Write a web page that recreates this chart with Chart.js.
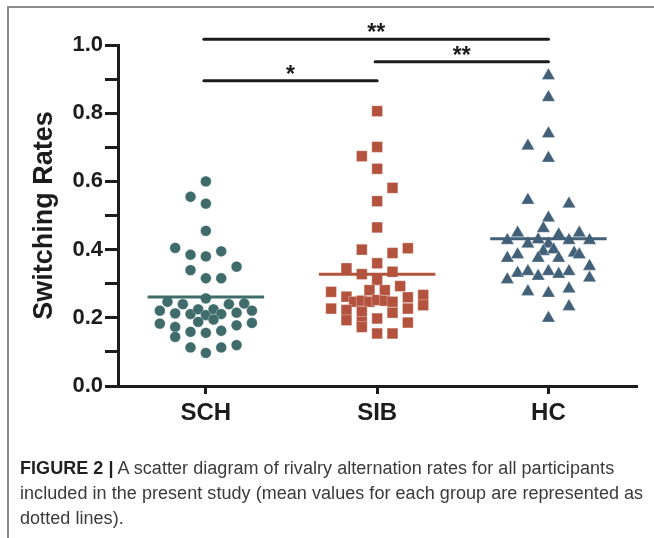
<!DOCTYPE html>
<html>
<head>
<meta charset="utf-8">
<script src="https://cdn.jsdelivr.net/npm/chart.js@4/dist/chart.umd.min.js"></script>
<style>
  html, body { margin: 0; padding: 0; background: #fff; }
  #page { position: relative; width: 654px; height: 538px; overflow: hidden; }
  #chart { position: absolute; left: 0; top: 0; }
  #frame { position: absolute; left: 7px; top: 6px; right: -4px; bottom: -4px;
    border-left: 2px solid #8c8c8c; border-top: 2px solid #8c8c8c; pointer-events: none; }
  #caption { position: absolute; left: 20px; top: 456px; width: 640px; white-space: nowrap;
    font-family: "Liberation Sans", Arial, sans-serif; font-size: 18px; letter-spacing: 0.05px;
    line-height: 25px; color: #3a3a3a; }
  #caption b { color: #1f1f1f; }
</style>
</head>
<body>
<div id="page">
  <canvas id="chart" width="654" height="440"></canvas>
  <div id="frame"></div>
  <div id="caption"><b>FIGURE 2 |</b> A scatter diagram of rivalry alternation rates for all participants<br>included in the present study (mean values for each group are represented as<br>dotted lines).</div>
</div>
<script>
(function () {
  "use strict";

  // ---- groups ----
  const groups = ["SCH", "SIB", "HC"];
  const groupMeans = [0.261, 0.328, 0.432];

  // switching rate per participant, and column slot used to spread the swarm
  const schValues = [0.60, 0.555, 0.535, 0.455, 0.405, 0.385, 0.38, 0.395, 0.34, 0.35,
    0.316, 0.316, 0.257, 0.247, 0.24, 0.24, 0.242, 0.221, 0.213, 0.211,
    0.225, 0.208, 0.225, 0.211, 0.215, 0.221, 0.183, 0.188, 0.195, 0.185,
    0.178, 0.173, 0.144, 0.159, 0.156, 0.162, 0.113, 0.097, 0.113, 0.12];
  const schSlots = [0, -2, 0, 0, -4, -2, 0, 2, -2, 4,
    0, 2, 0, -5, -3, 3, 5, -6, -4, -2,
    -1, 0, 1, 2, 4, 6, -6, -1, 1, 6,
    4, -4, -4, -2, 0, 2, -2, 0, 2, 4];

  const sibValues = [0.806, 0.701, 0.674, 0.637, 0.581, 0.542, 0.465, 0.40, 0.39, 0.404,
    0.36, 0.345, 0.328, 0.335, 0.311, 0.293, 0.276, 0.281, 0.281, 0.262,
    0.26, 0.267, 0.247, 0.25, 0.247, 0.252, 0.25, 0.247, 0.237, 0.227,
    0.223, 0.227, 0.218, 0.215, 0.193, 0.188, 0.198, 0.186, 0.173, 0.154, 0.154];
  const sibSlots = [0, 0, -2, 0, 2, 0, 0, -2, 2, 4,
    0, -4, -2, 2, 0, 3, -6, -1, 1, -4,
    4, 6, -3, -2, -1, 0, 1, 2, 6, -6,
    -4, 4, -2, 2, -4, -2, 0, 4, -2, 0, 2];

  const hcValues = [0.91, 0.846, 0.704, 0.74, 0.668, 0.545, 0.534, 0.493, 0.462, 0.449,
    0.427, 0.444, 0.449, 0.427, 0.417, 0.429, 0.417, 0.427, 0.395, 0.40,
    0.375, 0.385, 0.375, 0.375, 0.39, 0.385, 0.351, 0.312, 0.331, 0.336,
    0.322, 0.336, 0.328, 0.336, 0.317, 0.277, 0.272, 0.285, 0.233, 0.199];
  const hcSlots = [0, 0, -2, 0, 0, -2, 2, 0, -0.5, -3,
    -4, 1, 3, 4, -2, -1, 0, 2, -0.5, 0.5,
    -4, -3, -1, 1, 2.5, 3, 4, -4, -3, -2,
    -1, 0, 1, 2, 4, -2, 0, 2, 2, 0];

  // significance brackets
  const sigFrom = [1, 2, 1];
  const sigTo = [3, 3, 2];
  const sigLevel = [1.017, 0.951, 0.895];
  const sigText = ["**", "**", "*"];

  const colors = ["#3f6b6b", "#b3533e", "#426179"];
  const INK = "#1c1c1c";
  const FAMILY = "'Liberation Sans', Arial, sans-serif";

  function swarm(center, values, slots, step) {
    return values.map((v, i) => ({ x: center + slots[i] * step, y: v }));
  }

  function meanLine(center, m) {
    return [{ x: center - 0.34, y: m }, { x: center + 0.34, y: m }];
  }

  const sigPlugin = {
    id: "sig",
    afterDraw(chart) {
      const c = chart.ctx, xs = chart.scales.x, ys = chart.scales.y;
      c.save();
      c.strokeStyle = INK;
      c.fillStyle = INK;
      c.lineWidth = 3;
      c.lineCap = "round";
      c.font = "bold 23px " + FAMILY;
      c.textAlign = "center";
      c.textBaseline = "alphabetic";
      sigLevel.forEach((lvl, i) => {
        const x1 = xs.getPixelForValue(sigFrom[i]) - 2;
        const x2 = xs.getPixelForValue(sigTo[i]);
        const y = ys.getPixelForValue(lvl);
        c.beginPath();
        c.moveTo(x1, y);
        c.lineTo(x2, y);
        c.stroke();
        c.fillText(sigText[i], (x1 + x2) / 2, y + 1);
      });
      c.restore();
    }
  };

  const pts = { borderColor: "rgba(255,255,255,0.5)", borderWidth: 0.6, order: 2 };
  const line = { type: "line", borderWidth: 3, pointRadius: 0, fill: false, order: 0 };

  new Chart(document.getElementById("chart"), {
    type: "scatter",
    data: {
      datasets: [
        Object.assign({ label: "SCH", data: swarm(1, schValues, schSlots, 0.0448),
          pointStyle: "circle", pointRadius: 5.4, backgroundColor: colors[0] }, pts),
        Object.assign({ label: "SIB", data: swarm(2, sibValues, sibSlots, 0.0448),
          pointStyle: "rect", pointRadius: 7.6, backgroundColor: colors[1] }, pts),
        Object.assign({ label: "HC", data: swarm(3, hcValues, hcSlots, 0.06),
          pointStyle: "triangle", pointRadius: 7.7, backgroundColor: colors[2] }, pts),
        Object.assign({ data: meanLine(1, groupMeans[0]), borderColor: colors[0] }, line),
        Object.assign({ data: meanLine(2, groupMeans[1]), borderColor: colors[1] }, line),
        Object.assign({ data: meanLine(3, groupMeans[2]), borderColor: colors[2] }, line)
      ]
    },
    options: {
      responsive: false,
      animation: false,
      layout: { padding: { left: 28, right: 17, top: 45, bottom: 0 } },
      plugins: { legend: { display: false }, tooltip: { enabled: false } },
      scales: {
        x: {
          type: "linear",
          min: 0.487,
          max: 3.517,
          afterBuildTicks: (s) => { s.ticks = [{ value: 1 }, { value: 2 }, { value: 3 }]; },
          afterFit: (s) => { s.height = 54; },
          ticks: {
            color: INK,
            font: { family: FAMILY, size: 24, weight: "bold" },
            padding: 5,
            maxRotation: 0,
            callback: (v) => groups[v - 1]
          },
          grid: { drawOnChartArea: false, tickLength: 8, tickWidth: 3, tickColor: INK },
          border: { color: INK, width: 3 }
        },
        y: {
          min: 0,
          max: 1,
          afterFit: (s) => { s.width = 90; },
          ticks: {
            stepSize: 0.1,
            color: INK,
            font: { family: FAMILY, size: 22, weight: "bold" },
            padding: 2,
            callback: (v, i) => (i % 2 === 0 ? v.toFixed(1) : "")
          },
          grid: { drawOnChartArea: false, tickLength: 13, tickWidth: 3, tickColor: INK },
          border: { color: INK, width: 3 },
          title: {
            display: true,
            text: "Switching Rates",
            color: INK,
            font: { family: FAMILY, size: 27, weight: "bold" },
            padding: { top: 0, bottom: 0 }
          }
        }
      }
    },
    plugins: [sigPlugin]
  });
})();
</script>
</body>
</html>
